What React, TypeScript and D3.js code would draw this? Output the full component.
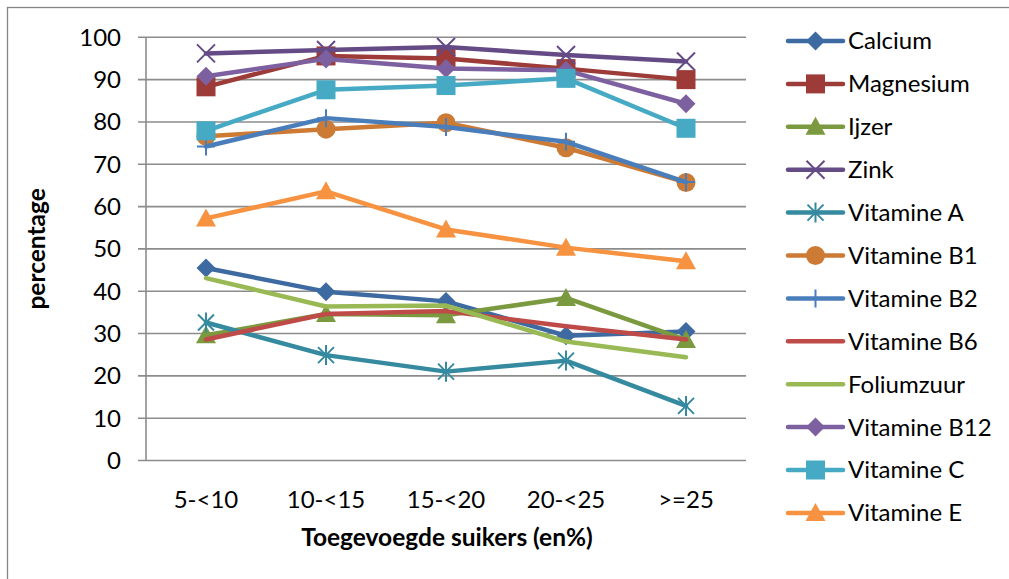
import React from "react";
import * as d3 from "d3";

const categories = ["5-<10", "10-<15", "15-<20", "20-<25", ">=25"];
const yTicks = [0, 10, 20, 30, 40, 50, 60, 70, 80, 90, 100];

const calcium = [45.5, 39.9, 37.6, 29.5, 30.5];
const magnesium = [88.3, 95.6, 95.0, 92.6, 90.0];
const ijzer = [29.6, 34.6, 34.3, 38.4, 28.5];
const zink = [96.2, 97.0, 97.7, 95.8, 94.3];
const vitamineA = [32.6, 24.9, 21.0, 23.6, 12.9];
const vitamineB1 = [76.6, 78.3, 79.8, 73.9, 65.7];
const vitamineB2 = [74.2, 80.9, 78.8, 75.3, 65.8];
const vitamineB6 = [28.6, 34.6, 35.3, 31.7, 28.6];
const foliumzuur = [43.1, 36.4, 36.6, 28.1, 24.4];
const vitamineB12 = [90.8, 94.9, 92.6, 92.2, 84.3];
const vitamineC = [77.9, 87.6, 88.6, 90.3, 78.5];
const vitamineE = [57.2, 63.6, 54.6, 50.3, 47.1];

type Marker = "diamond" | "square" | "triangle" | "x" | "star" | "circle" | "plus" | "none";

const series: { name: string; values: number[]; color: string; marker: Marker }[] = [
  { name: "Calcium", values: calcium, color: "#3D6AA1", marker: "diamond" },
  { name: "Magnesium", values: magnesium, color: "#9C3B38", marker: "square" },
  { name: "Ijzer", values: ijzer, color: "#7B9A40", marker: "triangle" },
  { name: "Zink", values: zink, color: "#654B86", marker: "x" },
  { name: "Vitamine A", values: vitamineA, color: "#358AA0", marker: "star" },
  { name: "Vitamine B1", values: vitamineB1, color: "#CC7A34", marker: "circle" },
  { name: "Vitamine B2", values: vitamineB2, color: "#4A7EBB", marker: "plus" },
  { name: "Vitamine B6", values: vitamineB6, color: "#BE4B48", marker: "none" },
  { name: "Foliumzuur", values: foliumzuur, color: "#98B954", marker: "none" },
  { name: "Vitamine B12", values: vitamineB12, color: "#7D60A0", marker: "diamond" },
  { name: "Vitamine C", values: vitamineC, color: "#46AAC5", marker: "square" },
  { name: "Vitamine E", values: vitamineE, color: "#F69240", marker: "triangle" },
];

const FONT = "Lato, 'Open Sans', sans-serif";

function MarkerShape({ type, x, y, color }: { type: Marker; x: number; y: number; color: string }) {
  const r = 9.5;
  switch (type) {
    case "diamond":
      return <path d={`M${x},${y - r}L${x + r},${y}L${x},${y + r}L${x - r},${y}Z`} fill={color} />;
    case "square":
      return <rect x={x - 9.5} y={y - 9.5} width={19} height={19} fill={color} />;
    case "triangle":
      return <path d={`M${x},${y - 10}L${x + 10},${y + 8}L${x - 10},${y + 8}Z`} fill={color} />;
    case "circle":
      return <circle cx={x} cy={y} r={9.5} fill={color} />;
    case "x":
      return (
        <path d={`M${x - 9},${y - 9}L${x + 9},${y + 9}M${x - 9},${y + 9}L${x + 9},${y - 9}`} stroke={color} strokeWidth={2} fill="none" />
      );
    case "star":
      return (
        <path
          d={`M${x - 8},${y - 8}L${x + 8},${y + 8}M${x - 8},${y + 8}L${x + 8},${y - 8}M${x},${y - 10}L${x},${y + 10}`}
          stroke={color}
          strokeWidth={2}
          fill="none"
        />
      );
    case "plus":
      return (
        <path d={`M${x},${y - 9}L${x},${y + 9}M${x - 9},${y}L${x + 9},${y}`} stroke={color} strokeWidth={2} fill="none" />
      );
    default:
      return null;
  }
}

export default function App() {
  const width = 1009;
  const height = 579;
  const x = d3.scalePoint<string>().domain(categories).range([146, 746]).padding(0.5);
  const y = d3.scaleLinear().domain([0, 100]).range([460.5, 37.3]);
  const line = d3
    .line<number>()
    .x((_, i) => x(categories[i]) as number)
    .y((d) => y(d));

  const legendX0 = 788;
  const legendX1 = 843;
  const legendY0 = 41;
  const legendStep = 42.9;
  const fs = 24;

  return (
    <svg
      width={width}
      height={height}
      style={{ position: "absolute", left: 0, top: 0, display: "block", background: "#fff" }}
      fontFamily={FONT}
    >
      <rect x={0} y={0} width={width} height={height} fill="#fff" />
      <rect x={7.5} y={7.5} width={width + 20} height={height + 20} fill="none" stroke="#868686" strokeWidth={1.3} />

      {yTicks.map((t) => (
        <g key={t}>
          <line x1={138} x2={746} y1={y(t)} y2={y(t)} stroke="#8C8C8C" strokeWidth={1.6} />
          <text x={121} y={y(t)} dy="0.35em" textAnchor="end" fontSize={fs} fill="#000">
            {t}
          </text>
        </g>
      ))}
      <line x1={146} x2={146} y1={y(100)} y2={y(0)} stroke="#8C8C8C" strokeWidth={1.6} />

      {categories.map((c) => (
        <text key={c} x={x(c)} y={500} dy="0.35em" textAnchor="middle" fontSize={fs} fill="#000">
          {c}
        </text>
      ))}
      <text x={447} y={537} dy="0.35em" textAnchor="middle" fontSize={fs + 0.5} fontWeight="bold" fill="#000">
        Toegevoegde suikers (en%)
      </text>
      <text
        transform={`translate(36,${(y(0) + y(100)) / 2}) rotate(-90)`}
        dy="0.35em"
        textAnchor="middle"
        fontSize={fs + 0.5}
        fontWeight="bold"
        fill="#000"
      >
        percentage
      </text>

      {series.map((s) => (
        <g key={s.name}>
          <path d={line(s.values) || ""} fill="none" stroke={s.color} strokeWidth={4.5} strokeLinejoin="round" strokeLinecap="round" />
          {s.values.map((v, i) => (
            <MarkerShape key={i} type={s.marker} x={x(categories[i]) as number} y={y(v)} color={s.color} />
          ))}
        </g>
      ))}

      {series.map((s, i) => {
        const ly = legendY0 + i * legendStep;
        return (
          <g key={s.name}>
            <line x1={legendX0} x2={legendX1} y1={ly} y2={ly} stroke={s.color} strokeWidth={4.5} strokeLinecap="round" />
            <MarkerShape type={s.marker} x={(legendX0 + legendX1) / 2} y={ly} color={s.color} />
            <text x={848} y={ly} dy="0.35em" fontSize={fs} fill="#000">
              {s.name}
            </text>
          </g>
        );
      })}
    </svg>
  );
}
